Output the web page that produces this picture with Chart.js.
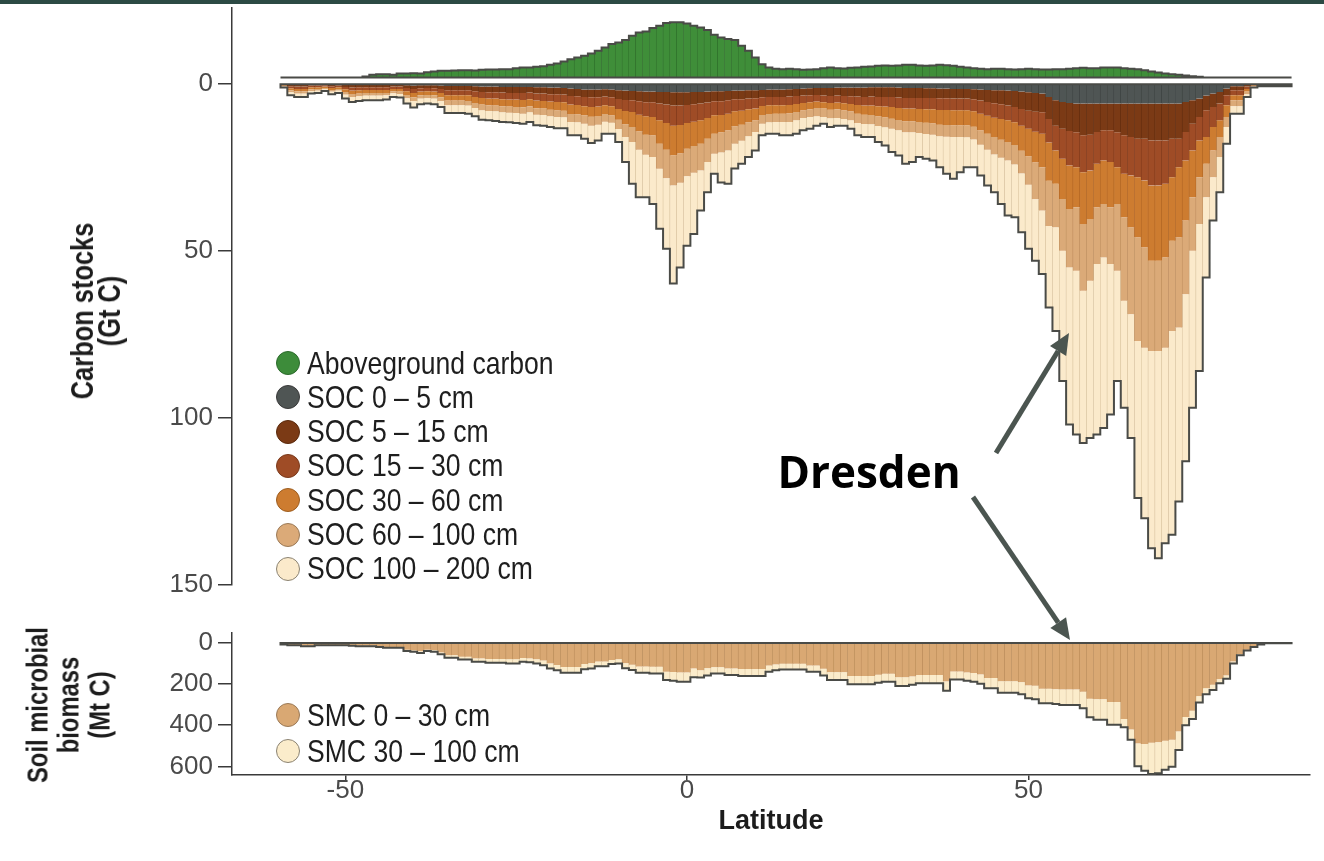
<!DOCTYPE html>
<html>
<head>
<meta charset="utf-8">
<script src="https://cdn.jsdelivr.net/npm/chart.js@4/dist/chart.umd.min.js"></script>
<style>
html,body{margin:0;padding:0;background:#fff;}
#wrap{position:relative;width:1324px;height:861px;overflow:hidden;background:#fff;}
#band{position:absolute;left:0;top:0;width:1324px;height:4px;background:#2c4a44;}
#cTop{position:absolute;left:0;top:0;}
#cBot{position:absolute;left:0;top:600px;}
.ytitle{position:absolute;font-family:"Liberation Sans",Arial,sans-serif;font-weight:bold;font-size:31px;line-height:27px;color:#1c1c1c;text-align:center;white-space:nowrap;transform:translate(-50%,-50%) rotate(-90deg) scaleX(0.82);}
.lg-item{position:absolute;left:276px;height:34px;display:flex;align-items:center;font-family:"Liberation Sans",Arial,sans-serif;font-size:32px;color:#1e1e1e;white-space:nowrap;}
.lg-item .tx{display:inline-block;transform:scaleX(0.83);transform-origin:left center;}
.sw{display:inline-block;flex:none;width:24px;height:24px;border-radius:50%;box-sizing:border-box;border:1.5px solid #555;margin-right:7px;}
#anno{position:absolute;left:0;top:0;}
</style>
</head>
<body>
<div id="wrap">
  <canvas id="cTop" width="1324" height="600"></canvas>
  <canvas id="cBot" width="1324" height="261"></canvas>
  <div id="band"></div>
  <div class="ytitle" style="left:96px;top:311px;">Carbon stocks<br>(Gt C)</div>
  <div class="ytitle" style="left:69px;top:705px;font-size:29px;line-height:31px;">Soil microbial<br>biomass<br>(Mt C)</div>
  <div id="legTop"></div>
  <div id="legBot"></div>
  <svg id="anno" width="1324" height="861"></svg>
</div>
<script>
// ---------------- DATA ----------------
const LATS = [
 -59,-58,-57,-56,-55,-54,-53,-52,-51,-50,
 -49,-48,-47,-46,-45,-44,-43,-42,-41,-40,
 -39,-38,-37,-36,-35,-34,-33,-32,-31,-30,
 -29,-28,-27,-26,-25,-24,-23,-22,-21,-20,
 -19,-18,-17,-16,-15,-14,-13,-12,-11,-10,
 -9,-8,-7,-6,-5,-4,-3,-2,-1,0,
 1,2,3,4,5,6,7,8,9,10,
 11,12,13,14,15,16,17,18,19,20,
 21,22,23,24,25,26,27,28,29,30,
 31,32,33,34,35,36,37,38,39,40,
 41,42,43,44,45,46,47,48,49,50,
 51,52,53,54,55,56,57,58,59,60,
 61,62,63,64,65,66,67,68,69,70,
 71,72,73,74,75,76,77,78,79,80,
 81,82,83,84,85,86,87,88
];

// Aboveground carbon (Gt C), drawn upward from its own baseline
const AGC = [
 0,0,0,0,0,0,0,0,0,0,
 0,0,0.3,0.8,1.0,1.0,0.8,1.2,1.2,1.3,
 1.2,1.6,1.8,2.0,2.0,2.1,2.2,2.2,2.1,2.3,
 2.4,2.4,2.5,2.5,2.8,3.0,3.0,3.2,3.4,3.8,
 4.2,4.8,5.5,6.0,6.5,7.2,8.0,9.0,10.0,10.5,
 11.2,12.5,13.5,13.8,14.8,15.5,16.3,16.5,16.5,16.2,
 15.5,15.0,14.2,12.8,12.0,11.5,11.2,9.5,8.0,6.0,
 4.0,3.0,2.6,2.5,2.6,2.5,2.3,2.4,2.5,2.8,
 3.0,2.8,2.7,2.9,3.0,3.2,3.3,3.5,3.6,3.5,
 3.6,3.8,3.8,3.6,3.5,3.6,3.8,3.7,3.5,3.2,
 3.0,2.8,2.6,2.5,2.6,2.6,2.5,2.4,2.5,2.6,
 2.5,2.4,2.4,2.5,2.5,2.6,2.8,2.9,2.8,2.8,
 3.0,3.0,3.0,2.8,2.6,2.5,2.2,1.8,1.5,1.2,
 1.0,0.8,0.6,0.4,0.2,0,0,0,0,0,
 0,0,0,0,0,0,0,0
];

const SOC_0_5 = [
 0.1,0.3,0.3,0.3,0.2,0.2,0.2,0.3,0.2,0.4,
 0.4,0.4,0.4,0.4,0.4,0.4,0.3,0.3,0.5,0.6,
 0.5,0.5,0.5,0.6,0.7,0.7,0.7,0.7,0.8,0.9,
 0.9,0.9,1.0,1.0,1.0,1.0,1.0,1.1,1.1,1.2,
 1.2,1.3,1.5,1.6,1.8,1.8,1.8,1.7,1.8,2.0,
 2.1,2.2,2.3,2.4,2.4,2.5,2.5,2.6,2.6,2.6,
 2.5,2.5,2.4,2.3,2.3,2.2,2.1,2.1,2.0,2.0,
 1.9,1.8,1.8,1.8,1.7,1.6,1.5,1.4,1.3,1.3,
 1.3,1.2,1.2,1.2,1.2,1.2,1.1,1.1,1.1,1.1,
 1.2,1.3,1.3,1.3,1.4,1.4,1.5,1.5,1.6,1.6,
 1.6,1.7,1.8,1.9,2.0,2.0,2.1,2.2,2.4,2.6,
 2.8,3.0,4.0,5.0,5.5,5.8,6.0,6.0,6.0,6.0,
 6.0,6.0,6.0,6.0,6.0,6.0,6.0,6.0,6.0,6.0,
 6.0,6.0,5.5,5.0,4.5,3.6,3.0,2.5,1.5,0.8,
 0.8,0.4,0.1,0.1,0.1,0.1,0.1,0.1
];
const SOC_5_15 = [
 0.2,0.5,0.6,0.6,0.4,0.4,0.3,0.5,0.4,0.6,
 0.8,0.7,0.7,0.7,0.7,0.7,0.6,0.6,0.8,1.0,
 0.9,0.8,0.9,1.0,1.3,1.3,1.3,1.3,1.5,1.6,
 1.7,1.7,1.7,1.8,1.8,1.8,1.7,1.9,1.9,2.0,
 2.0,2.0,2.2,2.2,2.2,2.3,2.3,2.2,2.3,2.6,
 2.8,2.8,3.0,3.2,3.2,3.5,3.8,4.0,4.0,3.8,
 3.7,3.5,3.3,3.0,3.0,2.8,2.6,2.6,2.5,2.4,
 2.2,2.2,2.2,2.2,2.2,2.1,2.1,2.1,2.1,2.3,
 2.4,2.4,2.5,2.6,2.7,2.8,2.8,2.9,2.9,2.9,
 3.0,3.0,3.0,3.0,2.9,2.9,2.9,2.9,2.9,2.9,
 2.9,3.0,3.3,3.6,3.9,4.2,4.5,4.8,5.2,5.5,
 5.6,5.6,6.6,7.6,8.0,8.4,8.6,9.5,9.3,8.5,
 8.0,8.0,8.6,9.5,10.0,10.5,10.5,11.0,11.0,11.0,
 10.5,10.5,9.0,7.0,5.5,4.4,4.0,3.5,2.0,1.2,
 1.2,0.5,0.2,0.1,0.1,0.1,0.1,0.1
];
const SOC_15_30 = [
 0.2,0.6,0.7,0.7,0.5,0.5,0.4,0.5,0.5,0.7,
 0.9,0.9,0.8,0.8,0.8,0.8,0.7,0.7,1.0,1.2,
 1.0,1.0,1.0,1.2,1.5,1.5,1.5,1.5,1.7,1.8,
 1.9,1.9,2.0,2.0,2.0,2.1,2.0,2.1,2.2,2.2,
 2.3,2.3,2.6,2.6,2.8,2.9,2.8,2.6,2.7,3.0,
 3.3,3.5,4.0,4.2,4.4,5.0,5.5,6.0,5.8,5.4,
 5.2,5.0,4.6,4.2,4.1,4.0,3.6,3.4,3.2,3.1,
 2.6,2.5,2.5,2.5,2.5,2.4,2.2,2.1,2.0,2.0,
 2.1,2.1,2.2,2.3,2.5,2.6,2.7,2.8,2.9,3.0,
 3.1,3.2,3.2,3.3,3.4,3.4,3.5,3.5,3.5,3.5,
 3.5,3.6,3.9,4.1,4.3,4.4,4.4,4.6,5.0,5.4,
 6.0,6.4,7.0,7.4,9.0,10.3,10.4,11.0,10.7,9.5,
 9.0,9.5,10.4,11.5,11.5,11.5,12.5,13.5,13.5,13.0,
 11.5,8.5,8.5,8.0,7.0,8.0,6.0,5.0,3.0,1.5,
 1.5,0.7,0.2,0.15,0.15,0.15,0.15,0.15
];
const SOC_30_60 = [
 0.2,0.6,0.7,0.7,0.6,0.5,0.4,0.6,0.5,0.8,
 1.0,1.0,0.9,0.9,0.9,0.9,0.7,0.8,1.1,1.3,
 1.1,1.1,1.1,1.3,1.6,1.6,1.6,1.7,1.8,2.0,
 2.0,2.1,2.1,2.1,2.2,2.2,2.1,2.3,2.3,2.4,
 2.5,2.5,2.8,2.8,2.7,2.9,2.8,2.6,2.7,3.2,
 4.0,4.5,5.0,5.5,5.5,7.0,8.0,8.9,8.5,7.7,
 7.3,7.0,6.2,5.5,5.2,5.0,4.5,4.2,3.9,3.5,
 2.7,2.6,2.5,2.5,2.5,2.4,2.2,2.1,1.9,1.9,
 2.0,2.0,2.1,2.2,2.6,2.7,2.8,3.0,3.2,3.5,
 3.6,3.8,3.8,3.9,4.0,4.2,4.4,4.5,4.5,4.5,
 4.5,4.6,5.0,5.4,5.8,6.2,6.5,6.8,7.5,8.3,
 9.2,10.0,11.5,10.0,12.0,13.0,12.0,15.5,14.5,13.0,
 13.0,13.5,11.0,13.0,15.5,18.0,20.0,22.5,22.5,22.0,
 19.0,21.0,18.0,14.0,11.0,8.0,7.0,5.0,3.5,1.5,
 1.5,0.8,0.2,0.15,0.15,0.15,0.15,0.15
];
const SOC_60_100 = [
 0.2,0.6,0.7,0.7,0.5,0.5,0.4,0.5,0.5,0.8,
 0.9,0.8,0.8,0.8,0.8,0.7,0.6,0.7,1.0,1.1,
 1.0,1.0,1.0,1.1,1.4,1.4,1.4,1.4,1.5,1.7,
 1.7,1.7,1.8,1.8,1.8,1.9,1.8,1.9,1.9,2.0,
 2.0,2.0,2.4,2.4,2.5,2.7,2.6,2.3,2.2,2.8,
 3.8,4.5,5.5,6.0,6.5,7.5,8.5,9.0,8.8,8.2,
 8.0,8.0,7.0,6.0,6.0,6.0,5.2,4.8,4.2,3.5,
 2.6,2.5,2.5,2.5,2.6,2.5,2.3,2.3,2.5,2.5,
 2.6,2.6,2.6,2.7,2.8,2.8,2.8,2.9,3.0,3.0,
 3.1,3.3,3.3,3.3,3.4,3.4,3.5,3.5,3.5,3.5,
 3.6,3.8,4.3,4.8,5.2,5.4,5.5,5.8,6.8,8.5,
 11.0,13.0,13.5,13.0,15.5,17.5,19.0,20.0,18.5,17.0,
 16.0,17.0,20.0,25.0,26.0,31.0,30.0,27.0,27.0,27.0,
 27.0,27.0,22.0,16.0,14.0,10.0,8.0,6.0,3.0,1.8,
 1.8,0.8,0.2,0.15,0.15,0.15,0.15,0.15
];
const SOC_100_200 = [
 0.3,0.9,1.0,1.0,0.8,0.7,0.5,0.8,0.7,1.2,
 1.5,1.4,1.4,1.4,1.4,1.3,1.1,1.1,1.6,2.0,
 1.7,1.6,1.7,1.8,2.3,2.3,2.3,2.4,2.5,2.8,
 2.8,2.9,2.9,2.9,3.0,3.0,2.9,3.2,3.2,3.2,
 3.4,3.3,4.0,3.9,4.5,5.2,4.7,3.6,3.3,3.9,
 7.5,12.5,14.2,12.7,14.0,17.9,21.1,29.3,25.3,20.8,
 18.3,12.0,9.0,6.0,9.0,10.0,7.4,6.9,6.2,5.5,
 3.5,3.4,3.5,4.0,4.0,4.0,3.7,3.5,2.8,2.0,
 2.6,2.3,2.0,2.5,3.7,3.9,3.8,4.8,5.4,7.0,
 7.5,9.4,8.9,7.2,7.4,7.7,9.2,11.1,12.5,10.5,
 8.9,8.3,9.2,10.7,11.3,13.8,16.5,15.8,17.6,19.1,
 18.4,19.0,24.4,31.0,39.0,47.0,49.0,45.5,47.0,51.0,
 51.0,45.0,33.0,32.0,37.0,47.0,51.0,59.0,62.0,58.5,
 61.0,52.0,50.0,47.0,44.0,24.0,13.0,10.5,5.0,2.2,
 2.2,0.8,0.3,0.15,0.15,0.15,0.15,0.15
];

// Soil microbial carbon (Mt C)
const SMC_0_30 = [
 10,13,13,17,17,13,13,13,13,13,
 14,17,17,17,19,23,23,23,36,39,
 43,36,38,49,62,62,69,69,78,78,
 81,81,81,82,82,76,78,82,88,102,
 109,119,119,119,104,101,93,93,85,82,
 101,108,117,117,118,118,142,143,145,145,
 126,135,125,120,120,126,126,129,129,129,
 129,112,107,103,103,103,103,112,112,128,
 144,144,144,162,162,162,162,157,152,152,
 169,169,165,158,158,158,158,189,141,141,
 145,148,155,172,172,188,188,188,192,208,
 210,224,224,226,227,227,227,238,272,274,
 274,288,288,370,420,488,490,485,482,475,
 470,430,360,330,260,222,205,178,160,92,
 56,36,20,9,5,5,5,5
];
const SMC_30_100 = [
 0,1,1,2,2,1,1,1,1,1,
 2,2,2,2,3,3,3,3,6,6,
 8,6,7,9,12,12,14,14,16,16,
 18,18,18,20,20,18,18,20,22,24,
 26,28,28,28,26,25,22,22,20,20,
 24,26,30,30,32,32,40,42,45,45,
 42,35,35,30,30,32,32,34,34,34,
 34,30,28,28,28,28,28,30,30,32,
 38,38,38,40,40,40,40,38,38,38,
 42,42,40,40,40,40,40,45,38,38,
 40,42,45,50,50,55,55,55,58,62,
 65,70,70,72,75,75,75,80,90,100,
 100,110,110,40,50,110,130,150,150,140,
 130,90,40,40,30,28,25,20,16,10,
 6,4,2,1,0,0,0,0
];

const TOP_TICKS = [0, 50, 100, 150];
const BOT_TICKS = [0, 200, 400, 600];
const X_TICKS = [-50, 0, 50];

// ---------------- STYLE CONSTANTS ----------------
const X_MIN = -66.6, X_MAX = 91.2;
const AG_BASE = -1.8;   // aboveground bars sit slightly above zero
const OUTLINE = '#4a4b47';
const TICK_FONT = {family: '"Liberation Sans", Arial, sans-serif', size: 26};
const TICK_COLOR = '#4a4a4a';
const AXIS_COLOR = '#3a3a3a';

function pts(vals){ return LATS.map((lat, i) => ({x: lat, y: vals[i]})); }
function bar(label, vals, bg, border, stack, legendBorder){
  return {label, data: pts(vals), backgroundColor: bg, borderColor: border,
          borderWidth: {left: 0.6, right: 0.6, top: 0, bottom: 0}, borderSkipped: false,
          stack, legendColor: bg, legendBorder: legendBorder || border};
}

const outlinePlugin = {
  id: 'outline',
  afterDatasetsDraw(chart, args, opts){
    const ctx = chart.ctx;
    (opts.groups || []).forEach(g => {
      const els = chart.getDatasetMeta(g.last).data;
      const baseEls = chart.getDatasetMeta(g.first).data;
      if (!els.length) return;
      const base = baseEls[0].base;
      ctx.save();
      ctx.beginPath();
      ctx.moveTo(els[0].x - els[0].width / 2, base);
      els.forEach(el => {
        ctx.lineTo(el.x - el.width / 2, el.y);
        ctx.lineTo(el.x + el.width / 2, el.y);
      });
      const le = els[els.length - 1];
      ctx.lineTo(le.x + le.width / 2, base);
      ctx.closePath();
      ctx.lineWidth = g.width;
      ctx.strokeStyle = g.color;
      ctx.lineJoin = 'miter';
      ctx.stroke();
      ctx.restore();
    });
  }
};

const commonBar = {grouped: false, barPercentage: 1, categoryPercentage: 1};
function fixY(s){ s.width = 232; s.paddingTop = 0; s.paddingBottom = 0; }

// ---------------- TOP CHART ----------------
const agData = LATS.map((lat, i) => ({x: lat, y: [AG_BASE, AG_BASE - AGC[i]]}));
const topChart = new Chart(document.getElementById('cTop'), {
  type: 'bar',
  data: {
    datasets: [
      {label: 'Aboveground carbon', data: agData, backgroundColor: '#3f8e39', borderColor: '#2f6d2b',
       borderWidth: {left: 0.6, right: 0.6, top: 0, bottom: 0}, borderSkipped: false, stack: 'ag',
       legendColor: '#3d8c3a', legendBorder: '#2c6a2c'},
      bar('SOC 0 – 5 cm', SOC_0_5, '#4f5554', '#3b403f', 'soc', '#3a3a3a'),
      bar('SOC 5 – 15 cm', SOC_5_15, '#7b3a15', '#5f2b0e', 'soc', '#5a2a0d'),
      bar('SOC 15 – 30 cm', SOC_15_30, '#9f4c26', '#7f3a1c', 'soc', '#7a3a1c'),
      bar('SOC 30 – 60 cm', SOC_30_60, '#cd7c30', '#ae6424', 'soc', '#9c5d20'),
      bar('SOC 60 – 100 cm', SOC_60_100, '#dbaa78', '#bd8d5d', 'soc', '#9a7a58'),
      bar('SOC 100 – 200 cm', SOC_100_200, '#fbeacb', '#d8c29e', 'soc', '#8a8272')
    ]
  },
  options: {
    responsive: false, animation: false, devicePixelRatio: 1,
    layout: {padding: {top: 8, right: 14, bottom: 15, left: 0}},
    datasets: {bar: commonBar},
    plugins: {
      legend: {display: false}, tooltip: {enabled: false},
      outline: {groups: [
        {first: 0, last: 0, color: OUTLINE, width: 2},
        {first: 1, last: 6, color: OUTLINE, width: 2}
      ]}
    },
    scales: {
      x: {type: 'linear', min: X_MIN, max: X_MAX, offset: false, display: false, stacked: true,
          grid: {offset: false}},
      y: {
        stacked: true, reverse: true, min: -22.6, max: 150,
        afterFit: fixY,
        afterBuildTicks(s){ s.ticks = TOP_TICKS.map(v => ({value: v})); },
        grid: {drawOnChartArea: false, drawTicks: true, tickLength: 14, color: AXIS_COLOR, lineWidth: 1.5},
        border: {display: true, color: AXIS_COLOR, width: 1.5},
        ticks: {font: TICK_FONT, color: TICK_COLOR, padding: 5, autoSkip: false}
      }
    }
  },
  plugins: [outlinePlugin]
});

// ---------------- BOTTOM CHART ----------------
const botChart = new Chart(document.getElementById('cBot'), {
  type: 'bar',
  data: {
    datasets: [
      bar('SMC 0 – 30 cm', SMC_0_30, '#d9a873', '#b98b58', 'smc', '#9a7a58'),
      bar('SMC 30 – 100 cm', SMC_30_100, '#fbeccb', '#d8c29e', 'smc', '#8a8272')
    ]
  },
  options: {
    responsive: false, animation: false, devicePixelRatio: 1,
    layout: {padding: {top: 33, right: 14, bottom: 0, left: 0}},
    datasets: {bar: commonBar},
    plugins: {
      legend: {display: false}, tooltip: {enabled: false},
      outline: {groups: [{first: 0, last: 1, color: OUTLINE, width: 2}]}
    },
    scales: {
      x: {
        type: 'linear', min: X_MIN, max: X_MAX, offset: false, stacked: true,
        afterFit(s){ s.height = 86; s.paddingLeft = 0; s.paddingRight = 0; },
        afterBuildTicks(s){ s.ticks = X_TICKS.map(v => ({value: v})); },
        grid: {offset: false, drawOnChartArea: false, drawTicks: true, tickLength: 5, color: AXIS_COLOR, lineWidth: 1.5},
        border: {display: true, color: AXIS_COLOR, width: 1.5},
        ticks: {font: TICK_FONT, color: TICK_COLOR, padding: -5, autoSkip: false, maxRotation: 0},
        title: {display: true, text: 'Latitude', color: '#1c1c1c',
                font: {family: '"Liberation Sans", Arial, sans-serif', weight: 'bold', size: 27},
                padding: {top: 0, bottom: 23}}
      },
      y: {
        stacked: true, reverse: true, min: -45, max: 640,
        afterFit: fixY,
        afterBuildTicks(s){ s.ticks = BOT_TICKS.map(v => ({value: v})); },
        grid: {drawOnChartArea: false, drawTicks: true, tickLength: 14, color: AXIS_COLOR, lineWidth: 1.5},
        border: {display: true, color: AXIS_COLOR, width: 1.5},
        ticks: {font: TICK_FONT, color: TICK_COLOR, padding: 5, autoSkip: false}
      }
    }
  },
  plugins: [outlinePlugin]
});

// ---------------- LEGENDS (built from the chart datasets) ----------------
function buildLegend(containerId, chart, firstCenter, step){
  const box = document.getElementById(containerId);
  chart.data.datasets.forEach((ds, i) => {
    const item = document.createElement('div');
    item.className = 'lg-item';
    item.style.top = (firstCenter + i * step - 17) + 'px';
    const sw = document.createElement('span');
    sw.className = 'sw';
    sw.style.background = ds.legendColor;
    sw.style.borderColor = ds.legendBorder;
    const tx = document.createElement('span');
    tx.className = 'tx';
    tx.textContent = ds.label;
    item.appendChild(sw); item.appendChild(tx);
    box.appendChild(item);
  });
}
buildLegend('legTop', topChart, 363, 34.3);
buildLegend('legBot', botChart, 715, 36);

// ---------------- ANNOTATION ----------------
const svg = document.getElementById('anno');
const NS = 'http://www.w3.org/2000/svg';
function arrow(x1, y1, x2, y2){
  const dx = x2 - x1, dy = y2 - y1, len = Math.hypot(dx, dy);
  const ux = dx / len, uy = dy / len, hl = 21, hw = 9.5;
  const bx = x2 - ux * hl, by = y2 - uy * hl;
  const line = document.createElementNS(NS, 'line');
  line.setAttribute('x1', x1); line.setAttribute('y1', y1);
  line.setAttribute('x2', bx); line.setAttribute('y2', by);
  line.setAttribute('stroke', '#4b5550'); line.setAttribute('stroke-width', '5');
  svg.appendChild(line);
  const head = document.createElementNS(NS, 'polygon');
  head.setAttribute('points', `${x2},${y2} ${bx - uy * hw},${by + ux * hw} ${bx + uy * hw},${by - ux * hw}`);
  head.setAttribute('fill', '#4b5550');
  svg.appendChild(head);
}
arrow(996, 453, 1069, 333);
arrow(973, 497, 1070, 640);
const t = document.createElementNS(NS, 'text');
t.setAttribute('x', 869); t.setAttribute('y', 488);
t.setAttribute('text-anchor', 'middle');
t.setAttribute('font-family', '"Open Sans", "Noto Sans", sans-serif');
t.setAttribute('font-weight', '700');
t.setAttribute('font-size', '44');
t.setAttribute('fill', '#000');
t.textContent = 'Dresden';
svg.appendChild(t);
</script>
</body>
</html>
